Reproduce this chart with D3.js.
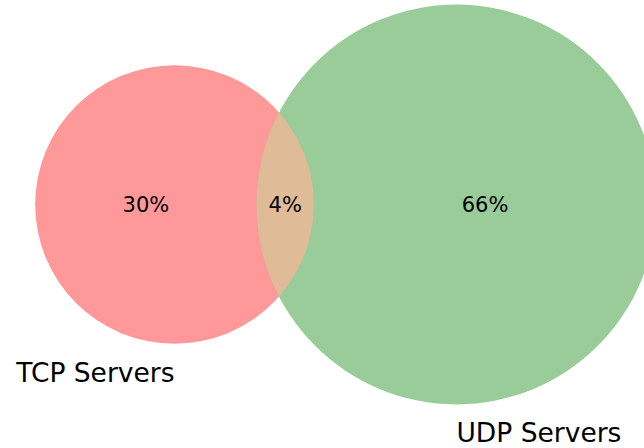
<!DOCTYPE html>
<html>
<head>
<meta charset="utf-8">
<script src="https://cdn.jsdelivr.net/npm/d3@7"></script>
<style>
body { margin: 0; background: #fff; }
text { font-family: "DejaVu Sans", sans-serif; fill: #000; }
</style>
</head>
<body>
<div id="chart"></div>
<script>
// subset sizes (percent of all servers)
var setNames = ["TCP Servers", "UDP Servers"];
var subsetKeys = ["10", "01", "11"];
var subsetValues = [30, 66, 4];
var subsetLabels = ["30%", "66%", "4%"];
var setColors = ["#ff9999", "#99cc99"];
var overlapColor = "#dfbb98";

var width = 644, height = 448;

var svg = d3.select("#chart").append("svg")
	.attr("width", width).attr("height", height);

var sizeA = subsetValues[0] + subsetValues[2];
var sizeB = subsetValues[1] + subsetValues[2];

// area proportional to the set size
var rScale = d3.scaleSqrt().domain([0, sizeA]).range([0, 139.3]);
var rA = rScale(sizeA), rB = rScale(sizeB);
var unitArea = Math.PI * rA * rA / sizeA;

function lensArea(r1, r2, d) {
	if (d >= r1 + r2) return 0;
	if (d <= Math.abs(r1 - r2)) return Math.PI * Math.min(r1, r2) * Math.min(r1, r2);
	var a1 = Math.acos((d * d + r1 * r1 - r2 * r2) / (2 * d * r1));
	var a2 = Math.acos((d * d + r2 * r2 - r1 * r1) / (2 * d * r2));
	return r1 * r1 * (a1 - Math.sin(2 * a1) / 2) + r2 * r2 * (a2 - Math.sin(2 * a2) / 2);
}

// find the center distance so that the lens matches the overlap size
var target = subsetValues[2] * unitArea;
var lo = Math.abs(rA - rB), hi = rA + rB;
for (var i = 0; i < 60; i++) {
	var mid = (lo + hi) / 2;
	if (lensArea(rA, rB, mid) > target) lo = mid; else hi = mid;
}
var dist = (lo + hi) / 2;

var cy = 204.5;
var xScale = d3.scaleLinear().domain([0, 1]).range([174.5, 174.5 + dist]);
var cxA = xScale(0), cxB = xScale(1);

svg.append("circle").attr("cx", cxA).attr("cy", cy).attr("r", rA).attr("fill", setColors[0]);
svg.append("circle").attr("cx", cxB).attr("cy", cy).attr("r", rB).attr("fill", setColors[1]);

// intersection points
var xi = (dist * dist + rA * rA - rB * rB) / (2 * dist);
var yi = Math.sqrt(rA * rA - xi * xi);
var lens = d3.path();
lens.moveTo(cxA + xi, cy - yi);
lens.arc(cxA, cy, rA, -Math.asin(yi / rA), Math.asin(yi / rA));
lens.arc(cxB, cy, rB, Math.PI - Math.asin(yi / rB), Math.PI + Math.asin(yi / rB));
lens.closePath();
svg.append("path").attr("d", lens.toString()).attr("fill", overlapColor);

// label positions: middle of each region along the center line
var leftA = cxA - rA, rightA = cxA + rA, leftB = cxB - rB, rightB = cxB + rB;
var labelX = {
	"10": (leftA + leftB) / 2,
	"01": (rightA + rightB) / 2,
	"11": (leftB + rightA) / 2
};

svg.selectAll("text.subset").data(subsetKeys).enter().append("text")
	.attr("class", "subset")
	.attr("text-anchor", "middle")
	.attr("x", function(d) { return labelX[d]; })
	.attr("y", cy + 7.5)
	.style("font-size", "21px")
	.text(function(d, i) { return subsetLabels[i]; });

// set labels below each circle
svg.append("text").attr("text-anchor", "end")
	.attr("x", cxA).attr("y", cy + rA + 38)
	.style("font-size", "26.5px").text(setNames[0]);
svg.append("text").attr("text-anchor", "start")
	.attr("x", cxB).attr("y", cy + rB + 38)
	.style("font-size", "26.5px").text(setNames[1]);
</script>
</body>
</html>
